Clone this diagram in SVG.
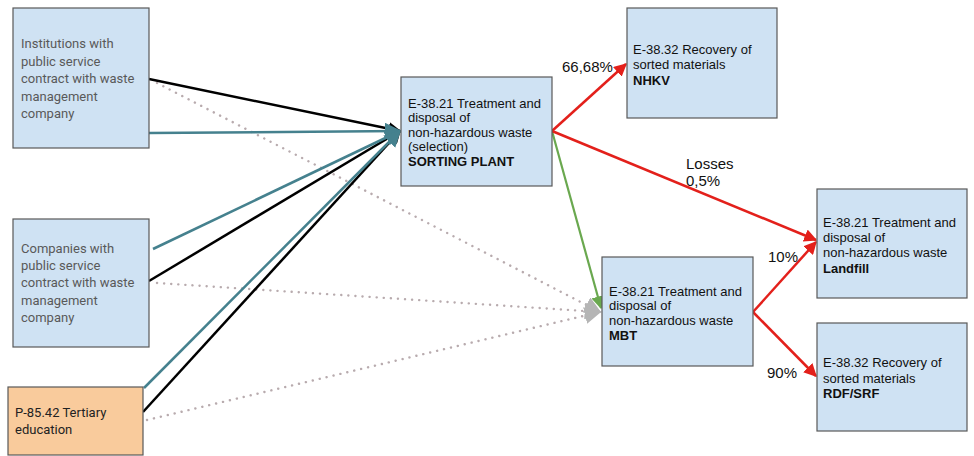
<svg xmlns="http://www.w3.org/2000/svg" width="974" height="456" viewBox="0 0 974 456">
  <style>
    .box { fill: #cfe2f3; stroke: #595959; stroke-width: 1.2; }
    .orange { fill: #f9cb9c; stroke: #595959; stroke-width: 1.2; }
    .src { font-family: Roboto, "Liberation Sans", sans-serif; font-size: 13px; fill: #595959; }
    .src-dark { font-family: Roboto, "Liberation Sans", sans-serif; font-size: 13px; fill: #222; }
    .lbl { font-family: "Liberation Sans", Arial, sans-serif; font-size: 13px; fill: #111; }
    .pct { font-family: "Liberation Sans", Arial, sans-serif; font-size: 15px; fill: #111; }
    .b { font-weight: bold; }
    .blk { stroke: #000; stroke-width: 2.5; fill: none; }
    .teal { stroke: #45818e; stroke-width: 2.5; fill: none; }
    .red { stroke: #e3201b; stroke-width: 2.5; fill: none; }
    .green { stroke: #6aa84f; stroke-width: 2.2; fill: none; }
    .dot { stroke: #b8abae; stroke-width: 2.4; stroke-dasharray: 0.1 7; stroke-linecap: round; fill: none; }
  </style>
  <defs>
    <marker id="ah-black" viewBox="0 0 10 10" refX="9" refY="5" markerWidth="13" markerHeight="13" markerUnits="userSpaceOnUse" orient="auto">
      <path d="M0,0 L10,5 L0,10 z" fill="#000"/>
    </marker>
    <marker id="ah-teal" viewBox="0 0 10 10" refX="9" refY="5" markerWidth="17" markerHeight="17" markerUnits="userSpaceOnUse" orient="auto">
      <path d="M0,0 L10,5 L0,10 z" fill="#45818e"/>
    </marker>
    <marker id="ah-red" viewBox="0 0 10 10" refX="9" refY="5" markerWidth="13" markerHeight="13" markerUnits="userSpaceOnUse" orient="auto">
      <path d="M0,0 L10,5 L0,10 z" fill="#e3201b"/>
    </marker>
    <marker id="ah-green" viewBox="0 0 10 10" refX="9" refY="5" markerWidth="13" markerHeight="13" markerUnits="userSpaceOnUse" orient="auto">
      <path d="M0,0 L10,5 L0,10 z" fill="#6aa84f"/>
    </marker>
    <marker id="ah-gray" viewBox="0 0 10 10" refX="9" refY="5" markerWidth="17" markerHeight="17" markerUnits="userSpaceOnUse" orient="auto">
      <path d="M0,0 L10,5 L0,10 z" fill="#b5b5b5"/>
    </marker>
  </defs>

  <!-- connectors -->
  <g id="connectors">
    <!-- dotted flows into MBT -->
    <line class="dot" x1="157" y1="83" x2="600" y2="312" marker-end="url(#ah-gray)"/>
    <line class="dot" x1="157" y1="283" x2="600" y2="312" marker-end="url(#ah-gray)"/>
    <line class="dot" x1="147" y1="420" x2="600" y2="312" marker-end="url(#ah-gray)"/>
    <!-- flows into sorting plant -->
    <line class="blk" x1="149" y1="79" x2="400" y2="131" marker-end="url(#ah-black)"/>
    <line class="blk" x1="149" y1="281" x2="400" y2="131" marker-end="url(#ah-black)"/>
    <line class="blk" x1="143" y1="412" x2="400" y2="131" marker-end="url(#ah-black)"/>
    <line class="teal" x1="149" y1="133" x2="400" y2="131" marker-end="url(#ah-teal)"/>
    <line class="teal" x1="153" y1="249" x2="400" y2="131" marker-end="url(#ah-teal)"/>
    <line class="teal" x1="144" y1="388" x2="400" y2="131" marker-end="url(#ah-teal)"/>
    <!-- sorting plant outputs -->
    <line class="green" x1="552" y1="131" x2="601" y2="308" marker-end="url(#ah-green)"/>
    <line class="red" x1="552" y1="131" x2="626" y2="64" marker-end="url(#ah-red)"/>
    <line class="red" x1="552" y1="131" x2="816" y2="240" marker-end="url(#ah-red)"/>
    <!-- MBT outputs -->
    <line class="red" x1="753" y1="312" x2="816" y2="242" marker-end="url(#ah-red)"/>
    <line class="red" x1="753" y1="312" x2="816" y2="376" marker-end="url(#ah-red)"/>
    <!-- flow labels -->
    <text class="pct" x="562" y="72">66,68%</text>
    <text class="pct" x="686" y="169">Losses</text>
    <text class="pct" x="686" y="186">0,5%</text>
    <text class="pct" x="768" y="262">10%</text>
    <text class="pct" x="767" y="378">90%</text>
  </g>

  <g id="institutions">
    <rect class="box" x="13" y="8" width="136" height="140"/>
    <text class="src" x="21" y="48">Institutions with</text>
    <text class="src" x="21" y="66">public service</text>
    <text class="src" x="21" y="83">contract with waste</text>
    <text class="src" x="21" y="101">management</text>
    <text class="src" x="21" y="118">company</text>
  </g>

  <g id="companies">
    <rect class="box" x="13" y="219" width="136" height="128"/>
    <text class="src" x="21" y="253">Companies with</text>
    <text class="src" x="21" y="270">public service</text>
    <text class="src" x="21" y="287">contract with waste</text>
    <text class="src" x="21" y="305">management</text>
    <text class="src" x="21" y="322">company</text>
  </g>

  <g id="tertiary">
    <rect class="orange" x="8" y="387" width="135" height="68"/>
    <text class="src-dark" x="15" y="417">P-85.42 Tertiary</text>
    <text class="src-dark" x="15" y="434">education</text>
  </g>

  <g id="sorting-plant">
    <rect class="box" x="401" y="77" width="151" height="109"/>
    <text class="lbl" x="408" y="108">E-38.21 Treatment and</text>
    <text class="lbl" x="408" y="122">disposal of</text>
    <text class="lbl" x="408" y="137">non-hazardous waste</text>
    <text class="lbl" x="408" y="151">(selection)</text>
    <text class="lbl b" x="408" y="166">SORTING PLANT</text>
  </g>

  <g id="nhkv">
    <rect class="box" x="627" y="8" width="150" height="110"/>
    <text class="lbl" x="633" y="54">E-38.32 Recovery of</text>
    <text class="lbl" x="633" y="69">sorted materials</text>
    <text class="lbl b" x="633" y="85">NHKV</text>
  </g>

  <g id="mbt">
    <rect class="box" x="602" y="257" width="151" height="109"/>
    <text class="lbl" x="609" y="296">E-38.21 Treatment and</text>
    <text class="lbl" x="609" y="310">disposal of</text>
    <text class="lbl" x="609" y="325">non-hazardous waste</text>
    <text class="lbl b" x="609" y="340">MBT</text>
  </g>

  <g id="landfill">
    <rect class="box" x="817" y="189" width="150" height="109"/>
    <text class="lbl" x="823" y="227">E-38.21 Treatment and</text>
    <text class="lbl" x="823" y="242">disposal of</text>
    <text class="lbl" x="823" y="257">non-hazardous waste</text>
    <text class="lbl b" x="823" y="273">Landfill</text>
  </g>

  <g id="rdf-srf">
    <rect class="box" x="817" y="323" width="150" height="108"/>
    <text class="lbl" x="823" y="367">E-38.32 Recovery of</text>
    <text class="lbl" x="823" y="383">sorted materials</text>
    <text class="lbl b" x="823" y="398">RDF/SRF</text>
  </g>
</svg>
